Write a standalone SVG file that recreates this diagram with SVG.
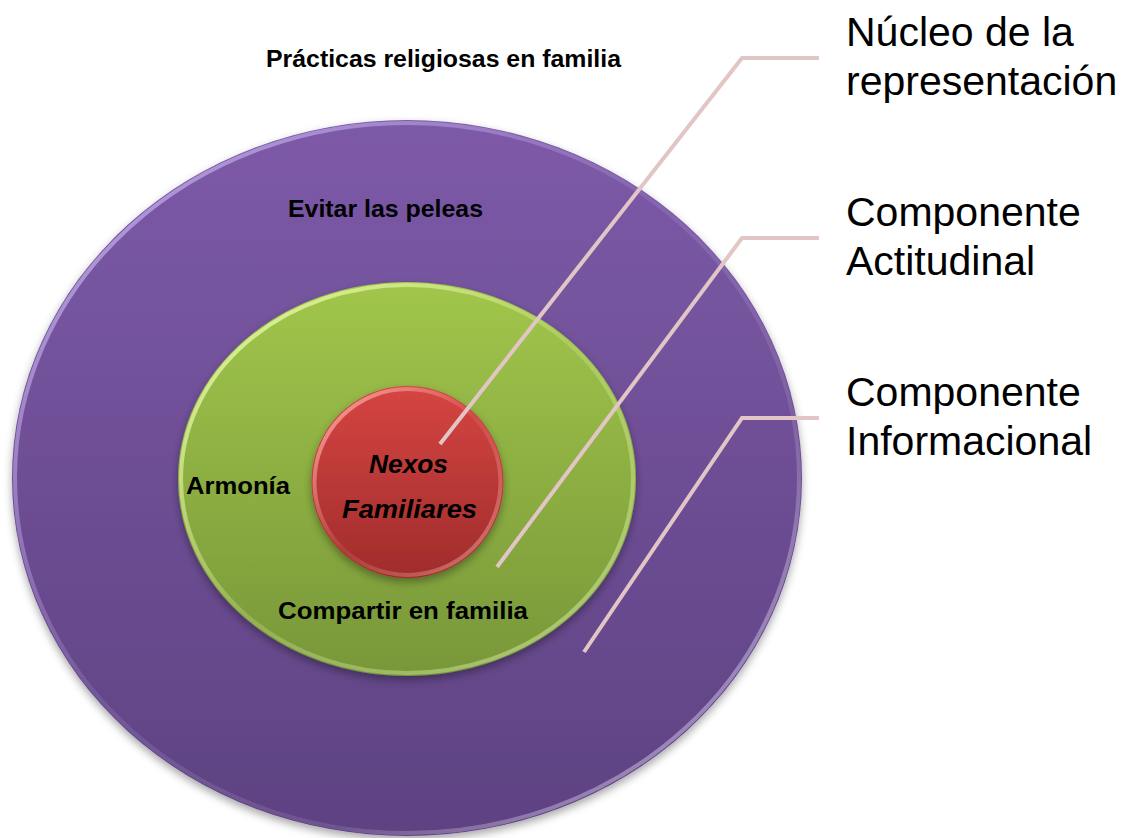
<svg xmlns="http://www.w3.org/2000/svg" width="1125" height="838" viewBox="0 0 1125 838">
  <defs>
    <linearGradient id="gPurple" x1="0" y1="0" x2="0" y2="1">
      <stop offset="0" stop-color="#7D5AA8"/>
      <stop offset="1" stop-color="#5E4282"/>
    </linearGradient>
    <linearGradient id="gGreen" x1="0" y1="0" x2="0" y2="1">
      <stop offset="0" stop-color="#A1C64B"/>
      <stop offset="1" stop-color="#789739"/>
    </linearGradient>
    <linearGradient id="gRed" x1="0" y1="0" x2="0" y2="1">
      <stop offset="0" stop-color="#D54542"/>
      <stop offset="1" stop-color="#A02C2B"/>
    </linearGradient>
    <linearGradient id="rimPurple" x1="0" y1="0" x2="1" y2="1">
      <stop offset="0" stop-color="#C8B4F0" stop-opacity="0.9"/>
      <stop offset="0.45" stop-color="#C8B4F0" stop-opacity="0.15"/>
      <stop offset="0.7" stop-color="#FFFFFF" stop-opacity="0.1"/>
      <stop offset="1" stop-color="#D8CCFF" stop-opacity="0.7"/>
    </linearGradient>
    <linearGradient id="rimGreen" x1="0" y1="0" x2="1" y2="1">
      <stop offset="0" stop-color="#F0FFB0" stop-opacity="0.9"/>
      <stop offset="0.5" stop-color="#F0FFB0" stop-opacity="0.2"/>
      <stop offset="1" stop-color="#E8FFC0" stop-opacity="0.5"/>
    </linearGradient>
    <linearGradient id="rimRed" x1="0" y1="0" x2="1" y2="1">
      <stop offset="0" stop-color="#FFB0A8" stop-opacity="0.9"/>
      <stop offset="0.5" stop-color="#FFB0A8" stop-opacity="0.1"/>
      <stop offset="1" stop-color="#FFC8C0" stop-opacity="0.5"/>
    </linearGradient>
    <filter id="shadow" x="-10%" y="-10%" width="120%" height="125%">
      <feDropShadow dx="0" dy="4" stdDeviation="4" flood-color="#000" flood-opacity="0.35"/>
    </filter>
  </defs>
  <style>
    .lbl { font-family: "Liberation Sans", Arial, sans-serif; font-weight: bold; fill: #000; font-size: 23px; }
    .core { font-family: "Liberation Sans", Arial, sans-serif; font-weight: bold; font-style: italic; font-size: 25px; fill: #000; }
    .side { font-family: "Liberation Sans", Arial, sans-serif; font-size: 41px; fill: #000; }
    .conn { fill: none; stroke: #E2C5C5; stroke-width: 4; stroke-linejoin: miter; }
  </style>
  <rect width="1125" height="838" fill="#FFFFFF"/>

  <g id="title">
    <text class="lbl" x="266" y="67" textLength="355" lengthAdjust="spacingAndGlyphs">Prácticas religiosas en familia</text>
  </g>

  <g id="node-informacional">
    <ellipse cx="407" cy="478" rx="395" ry="358" fill="url(#gPurple)" filter="url(#shadow)"/>
    <ellipse cx="407" cy="478" rx="392" ry="355" fill="none" stroke="url(#rimPurple)" stroke-width="4"/>
    <text class="lbl" x="288" y="217" textLength="195" lengthAdjust="spacingAndGlyphs">Evitar las peleas</text>
  </g>

  <g id="node-actitudinal">
    <ellipse cx="407" cy="479" rx="229" ry="197" fill="url(#gGreen)" filter="url(#shadow)"/>
    <ellipse cx="407" cy="479" rx="226" ry="194" fill="none" stroke="url(#rimGreen)" stroke-width="4"/>
    <text class="lbl" x="186" y="494" textLength="104" lengthAdjust="spacingAndGlyphs">Armonía</text>
    <text class="lbl" x="278" y="619" textLength="250" lengthAdjust="spacingAndGlyphs">Compartir en familia</text>
  </g>

  <g id="node-nucleo">
    <circle cx="407.5" cy="482" r="96" fill="url(#gRed)" filter="url(#shadow)"/>
    <circle cx="407.5" cy="482" r="93" fill="none" stroke="url(#rimRed)" stroke-width="4"/>
    <text class="core" x="369" y="473" textLength="79" lengthAdjust="spacingAndGlyphs">Nexos</text>
    <text class="core" x="342" y="518" textLength="135" lengthAdjust="spacingAndGlyphs">Familiares</text>
  </g>

  <g id="connectors">
    <polyline class="conn" points="440,444 742,58 819,58"/>
    <polyline class="conn" points="497,567 742,238 819,238"/>
    <polyline class="conn" points="584,652 742,418 819,418"/>
  </g>

  <g id="label-nucleo">
    <text class="side" x="846" y="46">Núcleo de la</text>
    <text class="side" x="846" y="95">representación</text>
  </g>
  <g id="label-actitudinal">
    <text class="side" x="846" y="226">Componente</text>
    <text class="side" x="846" y="275">Actitudinal</text>
  </g>
  <g id="label-informacional">
    <text class="side" x="846" y="406">Componente</text>
    <text class="side" x="846" y="455">Informacional</text>
  </g>
</svg>
